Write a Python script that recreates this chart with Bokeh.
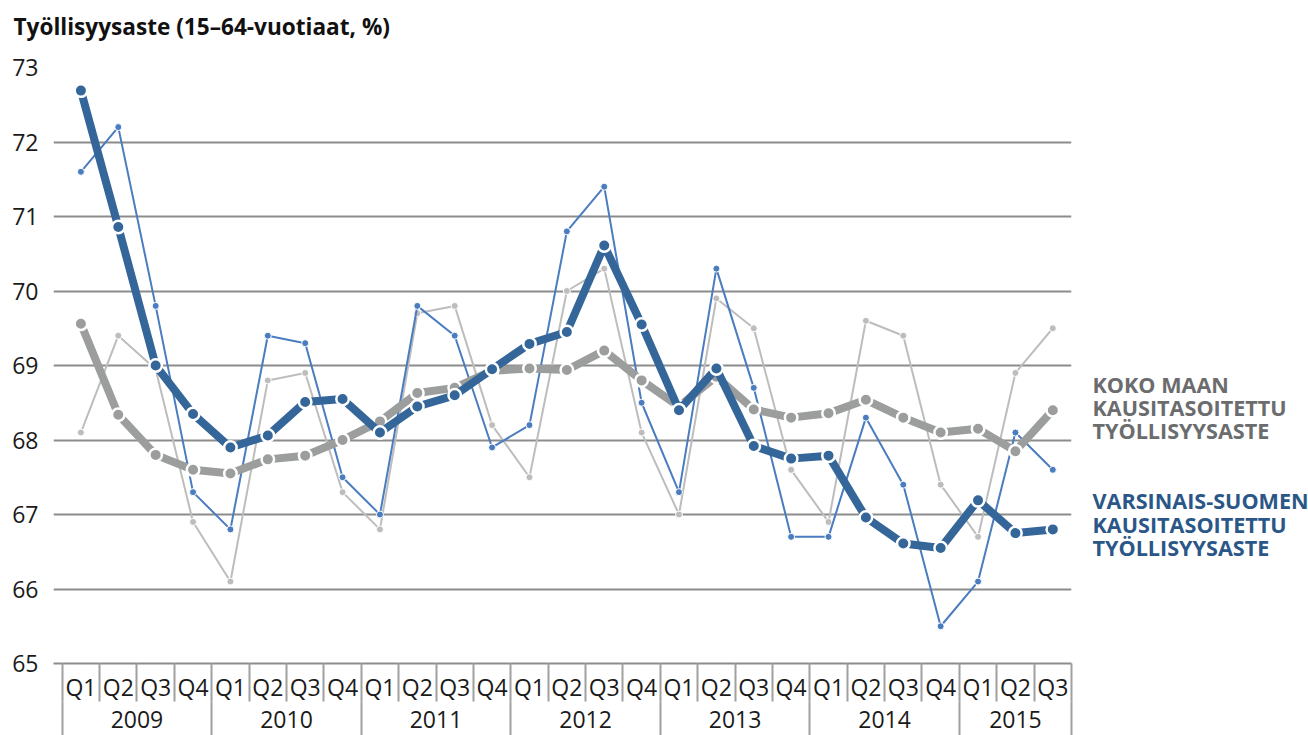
from bokeh.plotting import figure
from bokeh.models import Range1d, LinearAxis, FixedTicker
from bokeh.layouts import row, column
from bokeh.core.properties import value
from bokeh.embed import file_html
from bokeh.resources import INLINE
import numpy as np

# ---- data ----
quarters = ["Q1", "Q2", "Q3", "Q4"] * 6 + ["Q1", "Q2", "Q3"]
years = ["2009", "2010", "2011", "2012", "2013", "2014", "2015"]
quarters_per_year = [4, 4, 4, 4, 4, 4, 3]

# Varsinais-Suomi, original series
vs_raw = [71.6, 72.2, 69.8, 67.3, 66.8, 69.4, 69.3, 67.5, 67.0, 69.8, 69.4, 67.9,
          68.2, 70.8, 71.4, 68.5, 67.3, 70.3, 68.7, 66.7, 66.7, 68.3, 67.4, 65.5,
          66.1, 68.1, 67.6]
# Varsinais-Suomi, seasonally adjusted
vs_sa = [72.69, 70.86, 69.0, 68.35, 67.9, 68.06, 68.51, 68.55, 68.1, 68.45, 68.6, 68.95,
         69.29, 69.45, 70.61, 69.55, 68.4, 68.96, 67.92, 67.75, 67.79, 66.96, 66.61, 66.55,
         67.19, 66.75, 66.8]
# Whole country, original series
fi_raw = [68.1, 69.4, 68.95, 66.9, 66.1, 68.8, 68.9, 67.3, 66.8, 69.7, 69.8, 68.2,
          67.5, 70.0, 70.3, 68.1, 67.0, 69.9, 69.5, 67.6, 66.9, 69.6, 69.4, 67.4,
          66.7, 68.9, 69.5]
# Whole country, seasonally adjusted
fi_sa = [69.56, 68.34, 67.8, 67.6, 67.55, 67.74, 67.79, 68.0, 68.25, 68.63, 68.7, 68.93,
         68.96, 68.94, 69.2, 68.8, 68.45, 68.85, 68.41, 68.3, 68.36, 68.54, 68.3, 68.1,
         68.15, 67.85, 68.4]

y_ticks = [65, 66, 67, 68, 69, 70, 71, 72, 73]
title_text = "Työllisyysaste (15–64-vuotiaat, %)"
legend_fi = ["KOKO MAAN", "KAUSITASOITETTU", "TYÖLLISYYSASTE"]
legend_vs = ["VARSINAIS-SUOMEN", "KAUSITASOITETTU", "TYÖLLISYYSASTE"]

FONT = "Open Sans"
n = len(quarters)
x = np.arange(n) + 0.5
bounds = np.concatenate([[0], np.cumsum(quarters_per_year)])
year_centers = (bounds[:-1] + bounds[1:]) / 2.0

W, H = 1308, 735
TH = 48                 # title strip height
W2 = 235                # right label strip width
W1 = W - W2
H1 = H - TH
ML, MR, MT, MB = 53, 2, 67 - TH, 72


def blank(width, height, top=0, bottom=0):
    # pixel-coordinate panel (y downward) whose frame maps 1:1 onto its canvas
    f = figure(width=width, height=height, x_range=Range1d(0, width),
               y_range=Range1d(height - bottom, top),
               output_backend="svg", toolbar_location=None,
               x_axis_location=None, y_axis_location=None,
               min_border_left=0, min_border_right=0,
               min_border_top=top, min_border_bottom=bottom)
    f.outline_line_color = None
    f.xgrid.visible = False
    f.ygrid.visible = False
    return f


# ---- title strip ----
pt = blank(W, TH)
pt.text(x=[13], y=[25.5], text=[title_text], text_font=value(FONT), text_font_style="bold",
        text_font_size="22.6px", text_color="#111111", text_baseline="middle")

# ---- main chart ----
p = figure(width=W1, height=H1, x_range=Range1d(-0.233, n), y_range=Range1d(65, 73),
           output_backend="svg", toolbar_location=None,
           x_axis_location=None, y_axis_location="left",
           min_border_left=ML, min_border_right=MR, min_border_top=MT, min_border_bottom=MB)
p.outline_line_color = None
p.xgrid.visible = False

ya = p.yaxis[0]
ya.ticker = FixedTicker(ticks=y_ticks)
ya.axis_line_color = None
ya.major_tick_line_color = None
ya.minor_tick_line_color = None
ya.major_tick_out = 0
ya.major_tick_in = 0
ya.minor_tick_out = 0
ya.minor_tick_in = 0
ya.major_label_standoff = 15
ya.major_label_text_font = FONT
ya.major_label_text_font_size = "23px"
ya.major_label_text_color = "#1a1a1a"

p.ygrid.ticker = FixedTicker(ticks=y_ticks)
p.ygrid.grid_line_color = "#8c8c8c"
p.ygrid.grid_line_width = 2

SEP = "#a0a0a0"
# quarter row axis (minor ticks = separators between quarters)
axq = LinearAxis(ticker=FixedTicker(ticks=list(x), minor_ticks=list(range(n + 1))),
                 major_label_overrides={float(xi): q for xi, q in zip(x, quarters)})
axq.axis_line_color = "#8c8c8c"
axq.axis_line_width = 2
axq.major_tick_line_color = None
axq.major_tick_out = 0
axq.major_tick_in = 0
axq.minor_tick_line_color = SEP
axq.minor_tick_line_width = 2
axq.minor_tick_out = 38
axq.minor_tick_in = 0
axq.major_label_standoff = 7 - 38
axq.major_label_text_font = FONT
axq.major_label_text_font_size = "23px"
axq.major_label_text_color = "#1a1a1a"
p.add_layout(axq, "below")

# year row axis (minor ticks = separators between years)
axy = LinearAxis(ticker=FixedTicker(ticks=list(year_centers), minor_ticks=[float(b) for b in bounds]),
                 major_label_overrides={float(c): yv for c, yv in zip(year_centers, years)})
axy.axis_line_color = None
axy.major_tick_line_color = None
axy.major_tick_out = 0
axy.major_tick_in = 0
axy.minor_tick_line_color = SEP
axy.minor_tick_line_width = 2
axy.minor_tick_out = 40
axy.minor_tick_in = 4
axy.major_label_standoff = 5 - 40
axy.major_label_text_font = FONT
axy.major_label_text_font_size = "23px"
axy.major_label_text_color = "#1a1a1a"
p.add_layout(axy, "below")

# series
C_THIN_GRAY = "#bdbdbd"
C_THIN_BLUE = "#4a7cc0"
C_THICK_GRAY = "#9c9d9d"
C_THICK_BLUE = "#35669a"

p.line(x, fi_raw, line_color=C_THIN_GRAY, line_width=2)
p.scatter(x, fi_raw, size=7, fill_color=C_THIN_GRAY, line_color="white", line_width=1)
p.line(x, vs_raw, line_color=C_THIN_BLUE, line_width=2)
p.scatter(x, vs_raw, size=7, fill_color=C_THIN_BLUE, line_color="white", line_width=1)
p.line(x, fi_sa, line_color=C_THICK_GRAY, line_width=8)
p.scatter(x, fi_sa, size=12.5, fill_color=C_THICK_GRAY, line_color="white", line_width=2.5)
p.line(x, vs_sa, line_color=C_THICK_BLUE, line_width=8)
p.scatter(x, vs_sa, size=12.5, fill_color=C_THICK_BLUE, line_color="white", line_width=2.5)

# ---- right-hand series labels (frame aligned with the chart's frame) ----
p2 = blank(W2, H1, top=MT, bottom=MB)
LX = 1092 - W1
p2.text(x=[LX] * 3, y=[383.5 - TH, 406.8 - TH, 430.1 - TH], text=legend_fi,
        text_font=value(FONT), text_font_style="bold", text_font_size="21.6px",
        text_color="#6b6c6e", text_baseline="middle")
p2.text(x=[LX] * 3, y=[499.8 - TH, 523.5 - TH, 546.8 - TH], text=legend_vs,
        text_font=value(FONT), text_font_style="bold", text_font_size="21.6px",
        text_color="#2b5788", text_baseline="middle")

layout = column(pt, row(p, p2, spacing=0), spacing=0)
open("out.html", "w").write(file_html(layout, INLINE))
